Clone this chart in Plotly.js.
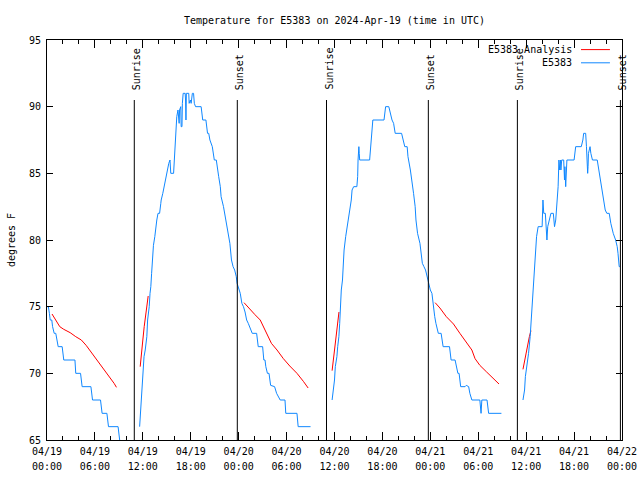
<!DOCTYPE html>
<html><head><meta charset="utf-8">
<script src="https://cdn.plot.ly/plotly-3.0.1.min.js"></script>
<style>html,body{margin:0;padding:0;background:#fff}</style>
</head><body><div id="chart" style="width:640px;height:480px"></div>
<script>
// hours since 2024-04-19 00:00 UTC
const stationName = 'E5383';
const analysisName = 'E5383 Analysis';
const chartTitle = 'Temperature for E5383 on 2024-Apr-19 (time in UTC)';
const yLabel = 'degrees F';
const tickHours = [0,6,12,18,24,30,36,42,48,54,60,66,72];
const tickDates = ['04/19','04/19','04/19','04/19','04/20','04/20','04/20','04/20','04/21','04/21','04/21','04/21','04/22'];
const tickTimes = ['00:00','06:00','12:00','18:00','00:00','06:00','12:00','18:00','00:00','06:00','12:00','18:00','00:00'];
const sunriseHours = [10.93, 35.0, 58.9];
const sunsetHours = [23.83, 47.75, 71.8];

// observed temperatures (E5383)
const obs1Hours = [0,0.17,0.3,0.4,0.6,0.7,0.9,1.1,1.4,1.9,2.1,3.5,3.6,4.2,4.4,5.5,5.7,6.7,6.9,7.5,7.7,8.9,9.1,9.3];
const obs1Temps = [75,75,74.5,74,74,73.5,73,73,72,72,71,71,70,70,69,69,68,68,67,67,66,66,65,64.5];

const obs2Hours = [11.6,11.75,11.9,12.0,12.15,12.3,12.5,12.6,12.8,12.9,13.0,13.1,13.2,13.33,13.5,13.6,13.75,13.9,14.1,14.25,14.3,14.5,14.75,14.9,15.1,15.25,15.4,15.5,15.85,15.95,16.0,16.1,16.25,16.4,16.55,16.6,16.75,16.8,16.9,16.95,17.05,17.3,17.35,17.4,17.45,17.75,17.8,17.95,18.05,18.2,18.35,18.45,18.6,19.3,19.5,19.9,20.1,20.25,20.4,20.7,20.95,21.2,21.3,21.5,21.7,21.8,22.1,22.3,22.5,22.7,22.9,23.1,23.3,23.5,23.7,23.8,24.2,24.4,24.6,24.8,25.0,25.2,25.4,25.7,26.25,26.4,26.45,27.0,27.15,27.3,27.4,27.6,27.8,28.0,28.5,28.75,29.2,29.8,29.9,31.3,31.45,33.0];
const obs2Temps = [66,67.5,68.75,70.25,71.25,71.75,72.75,74,75,76,76.5,77.5,78.5,79.6,80.25,81,81.5,82,82,82.75,83,83.5,84.25,84.75,85.5,85.75,86,85,85,86,87.25,88.25,89.25,89.75,88.75,89.75,90,88.5,88.5,90.25,91,91,90.5,89,91,91,90.25,90.5,90.25,91,91,90.25,90,90,89,89,88,88,87.5,87,86,86,85.5,84.75,84,83.25,82.5,81.75,81,80.5,79.75,78.5,78,77.75,77.25,76.75,76,75.25,75,74.6,74,73.75,73.5,73,73,72.25,72,72,71,71,70.5,70,70,69.1,69,68.5,68,68,67,67,66,66];

const obs3Hours = [35.7,35.85,36.0,36.1,36.3,36.4,36.55,36.65,36.75,36.85,37.0,37.2,37.4,37.6,37.7,37.9,38.1,38.2,38.4,38.8,38.9,38.95,39.05,39.1,39.15,40.4,40.5,40.7,40.8,42.2,42.3,42.4,42.8,42.98,43.2,43.4,43.6,44.4,44.6,44.8,45.1,45.2,45.5,45.7,45.9,46.1,46.2,46.4,46.7,46.8,47.0,47.2,47.4,47.7,47.85,48.0,48.2,48.35,48.55,48.7,48.85,49.0,49.35,49.5,49.6,50.4,50.6,51.1,51.3,51.45,51.6,51.8,52.35,52.5,52.8,52.95,53.2,54.2,54.35,54.45,55.1,55.3,56.9];
const obs3Temps = [68,68.75,69.5,70.5,71.25,72,72.75,73.75,75.25,76.25,77,79.25,80.25,81,81.25,82,83,83.75,84,84,84.75,86,87,86.5,86,86,86.75,87.75,89,89,89.75,90,90,89.5,89,88.75,88,88,87.5,87,87,86.25,85.25,84.5,83.5,82.5,81.5,80.5,79.75,79.25,78.25,78,77.75,77,76.5,76.25,76,75,74.25,73.75,73.25,73,73,72.5,72,72,71,71,70.25,70,70,69,69,69.1,69,68.5,68,68,67,68,68,67,67];

const obs4Hours = [59.6,59.8,59.9,60.1,60.3,60.5,60.6,60.8,60.9,61.1,61.3,61.5,62.0,62.1,62.2,62.4,62.5,62.6,62.7,62.9,63.1,63.4,63.55,63.7,63.8,64.0,64.1,64.2,64.3,64.35,64.45,64.7,64.8,64.85,64.95,65.1,66.0,66.1,66.2,66.9,67.1,67.2,67.45,67.55,67.65,67.7,67.75,67.8,68.0,68.1,68.3,68.9,69.1,69.3,69.4,69.6,69.8,69.9,70.1,70.4,70.6,70.7,70.9,71.2,71.4,71.5,71.65,71.75];
const obs4Temps = [68,68.75,69.75,70.5,71.5,72.75,73.75,75.25,76.5,78.75,80.25,81,81,83,82,82,80.5,80,81,81.5,82,82,81,81.5,82.5,84,86,85.25,86,85.25,86,86,84.5,85.5,84,86,86,86.5,87,87,87.5,88,88,87,85.5,85,85.5,86.5,87,86.5,86,86,85.25,84.5,84,83.5,82.75,82.25,82,82,81.25,81,80.5,80,79.5,79,78,78];

// analysis temperatures (E5383 Analysis)
const ana1Hours = [0.63,1.1,1.6,2.1,2.9,3.6,4.3,4.9,5.4,6.0,6.6,7.25,7.9,8.4,8.7];
const ana1Temps = [74.45,73.95,73.5,73.3,73.05,72.75,72.5,72.1,71.7,71.2,70.75,70.25,69.7,69.25,68.95];
const ana2Hours = [11.67,11.8,12.0,12.17,12.4,12.55,12.67];
const ana2Temps = [70.5,71.5,72.5,73.5,74.6,75.5,75.8];
const ana3Hours = [24.67,25.4,26.04,26.7,27.1,27.5,28.1,28.8,29.6,30.4,31.3,32.1,32.7];
const ana3Temps = [75.3,74.8,74.4,74.0,73.5,72.9,72.25,71.75,71.1,70.55,70.0,69.4,68.9];
const ana4Hours = [35.7,35.85,36.0,36.2,36.4,36.56];
const ana4Temps = [70.2,71,72,73,74,74.6];
const ana5Hours = [48.6,49.2,50.0,50.9,51.7,52.55,53.2,53.6,54.2,55.05,55.9,56.6];
const ana5Temps = [75.3,74.9,74.25,73.7,73.0,72.3,71.75,71.1,70.6,70.1,69.6,69.2];
const ana6Hours = [59.6,59.9,60.15,60.4,60.6];
const ana6Temps = [70.3,71.25,72.1,72.75,73.2];

function joinSegments(segs) {
  const xs = [], ys = [];
  segs.forEach(([h, t], i) => {
    if (i > 0) { xs.push(null); ys.push(null); }
    xs.push(...h); ys.push(...t);
  });
  return [xs, ys];
}

const [obsX, obsY] = joinSegments([[obs1Hours,obs1Temps],[obs2Hours,obs2Temps],[obs3Hours,obs3Temps],[obs4Hours,obs4Temps]]);
const [anaX, anaY] = joinSegments([[ana1Hours,ana1Temps],[ana2Hours,ana2Temps],[ana3Hours,ana3Temps],[ana4Hours,ana4Temps],[ana5Hours,ana5Temps],[ana6Hours,ana6Temps]]);

const blue = 'rgb(16,136,255)';
const red = 'rgb(255,0,0)';
const FONT = 'DejaVu Sans Mono, monospace';

const traces = [
  {x: anaX, y: anaY, type: 'scatter', mode: 'lines', name: analysisName, line: {color: red, width: 1}, connectgaps: false},
  {x: obsX, y: obsY, type: 'scatter', mode: 'lines', name: stationName, line: {color: blue, width: 1}, connectgaps: false},
  {x: [0, 72], y: [null, null], xaxis: 'x2', type: 'scatter', mode: 'lines', showlegend: false, hoverinfo: 'skip'}
];

const shapes = [];
const annotations = [];
const addSun = (h, label) => {
  shapes.push({type: 'line', xref: 'x', yref: 'y', x0: h, x1: h, y0: 65, y1: 90.5, line: {color: '#000', width: 1}});
  annotations.push({x: h, y: 91.1, xref: 'x', yref: 'y', text: label, textangle: -90, showarrow: false,
    xanchor: 'center', yanchor: 'bottom', xshift: 2, font: {family: FONT, size: 10, color: '#000'}});
};
sunriseHours.forEach(h => addSun(h, 'Sunrise'));
sunsetHours.forEach(h => addSun(h, 'Sunset'));

// gnuplot-style legend (text left of sample line)
[[analysisName, red, 0.976], [stationName, blue, 0.943]].forEach(([name, col, yp]) => {
  annotations.push({x: 0.9165, y: yp, xref: 'paper', yref: 'paper', text: name, showarrow: false,
    xanchor: 'right', yanchor: 'middle', font: {family: FONT, size: 10, color: '#000'}});
  shapes.push({type: 'line', xref: 'paper', yref: 'paper', x0: 0.9287, x1: 0.979, y0: yp, y1: yp, line: {color: col, width: 1}});
});

const layout = {
  width: 640, height: 480,
  margin: {l: 47, r: 18, t: 40, b: 40, pad: 0},
  paper_bgcolor: '#fff', plot_bgcolor: '#fff',
  font: {family: FONT, size: 10, color: '#000'},
  title: {text: chartTitle, x: 0.5, xref: 'paper', xanchor: 'center', y: 1 - 20/480, yref: 'container', yanchor: 'middle', font: {family: FONT, size: 10, color: '#000'}},
  showlegend: false,
  xaxis: {
    range: [0, 72], tickmode: 'array', tickvals: tickHours, ticktext: tickDates,
    ticks: 'inside', ticklen: 8, tickwidth: 1, tickcolor: '#000', ticklabelstandoff: 2,
    showline: true, linecolor: '#000', linewidth: 1, mirror: 'ticks',
    showgrid: false, zeroline: false, fixedrange: true,
    minor: {tickmode: 'linear', tick0: 0, dtick: 2, ticks: 'inside', ticklen: 4, tickwidth: 1, tickcolor: '#000', showgrid: false}
  },
  xaxis2: {
    range: [0, 72], overlaying: 'x', anchor: 'y', side: 'bottom',
    tickmode: 'array', tickvals: tickHours, ticktext: tickTimes,
    ticks: '', showline: false, showgrid: false, zeroline: false, fixedrange: true,
    ticklabelstandoff: 19
  },
  yaxis: {
    range: [65, 95], tickmode: 'linear', tick0: 65, dtick: 5,
    ticks: 'inside', ticklen: 6, tickwidth: 1, tickcolor: '#000', ticklabelstandoff: 3,
    showline: true, linecolor: '#000', linewidth: 1, mirror: 'ticks',
    showgrid: false, zeroline: false, fixedrange: true,
    title: {text: yLabel, standoff: 11, font: {family: FONT, size: 10, color: '#000'}}
  },
  shapes: shapes,
  annotations: annotations
};

Plotly.newPlot('chart', traces, layout, {displayModeBar: false, staticPlot: true});
</script></body></html>
